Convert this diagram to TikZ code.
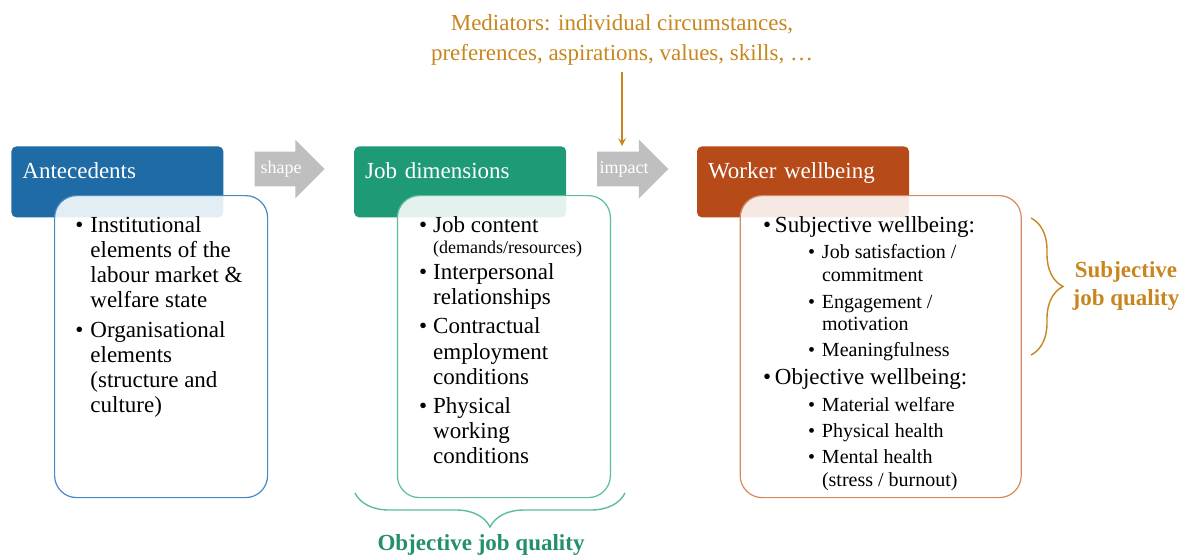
\documentclass[tikz,border=0pt]{standalone}
\usepackage{fontspec}
\setmainfont{Liberation Serif}
\usetikzlibrary{positioning,shapes.arrows,decorations.pathreplacing}

\definecolor{antblue}{HTML}{1F6BA6}
\definecolor{antline}{HTML}{4A88C2}
\definecolor{jobgreen}{HTML}{1E9A77}
\definecolor{jobline}{HTML}{5DBD9B}
\definecolor{wellred}{HTML}{B64A18}
\definecolor{wellline}{HTML}{D8875F}
\definecolor{flowgray}{HTML}{BFBFBF}
\definecolor{medgold}{HTML}{C8861E}
\definecolor{objgreen}{HTML}{238F6C}

\newcommand{\itm}[1]{\makebox[#1][l]{\textbullet}}
\newcommand{\subf}{\fontsize{10}{12}\selectfont}
\newcommand{\subitm}{\hspace*{22.5pt}\makebox[7pt][l]{\subf\textbullet}}

\begin{document}
\begin{tikzpicture}[x=0.5pt,y=-0.5pt,>=stealth,
	every node/.style={font=\fontsize{11.5}{12.5}\selectfont},
	head/.style={rectangle,rounded corners=2.5pt,anchor=north west,text=white,align=left,text width=95pt,inner xsep=5.5pt,inner ysep=7pt,text height=8.8pt,text depth=12.7pt},
	body/.style={rectangle,rounded corners=11pt,fill=white,fill opacity=0.88,line width=0.6pt,inner sep=0pt,minimum height=151pt},
	flow/.style={single arrow,fill=flowgray,text=white,minimum height=35pt,inner xsep=1pt,inner ysep=4.5pt,text height=6pt,text depth=2pt,single arrow head extend=6pt,font=\fontsize{9}{10}\selectfont},
	list/.style={inner sep=0pt},
	quality/.style={align=center,font=\fontsize{11.5}{14}\selectfont\bfseries},
	]
	\useasboundingbox (0,0) rectangle (1189,557);
	
	% headers
	\node (anthead) [head,fill=antblue] at (11,146) {Antecedents};
	\node (jobhead) [head,fill=jobgreen,right=65pt of anthead] {Job dimensions};
	\node (wellhead) [head,fill=wellred,right=65pt of jobhead] {Worker wellbeing};
	
	% boxes
	\node (antbody) [body,draw=antline,minimum width=106.5pt,below right=24.5pt and 21.5pt of anthead.north west] {};
	\node (jobbody) [body,draw=jobline,minimum width=106.5pt,below right=24.5pt and 21.5pt of jobhead.north west] {};
	\node (wellbody) [body,draw=wellline,minimum width=140.5pt,below right=24.5pt and 21.5pt of wellhead.north west] {};
	
	% lists
	\node (antlist) [list,below right=10pt and 10.5pt of antbody.north west] {\begin{tabular}{@{}l@{}}
		\itm{7.5pt}Institutional\\
		\hspace*{7.5pt}elements of the\\
		\hspace*{7.5pt}labour market \&\\
		\hspace*{7.5pt}welfare state\\[2.5pt]
		\itm{7.5pt}Organisational\\
		\hspace*{7.5pt}elements\\
		\hspace*{7.5pt}(structure and\\
		\hspace*{7.5pt}culture)
	\end{tabular}};
	\node (joblist) [list,below right=10pt and 11pt of jobbody.north west] {\begin{tabular}{@{}l@{}}
		\itm{7pt}Job content\\[-2pt]
		\hspace*{7pt}{\fontsize{9}{10}\selectfont(demands/resources)}\\[0.5pt]
		\itm{7pt}Interpersonal\\
		\hspace*{7pt}relationships\\[2pt]
		\itm{7pt}Contractual\\[0.5pt]
		\hspace*{7pt}employment\\
		\hspace*{7pt}conditions\\[2pt]
		\itm{7pt}Physical\\
		\hspace*{7pt}working\\
		\hspace*{7pt}conditions
	\end{tabular}};
	\node (welllist) [list,below right=10pt and 11.5pt of wellbody.north west] {\begin{tabular}{@{}l@{}}
		\itm{6pt}Subjective wellbeing:\\[0.5pt]
		\subitm\subf Job satisfaction /\\[-1pt]
		\hspace*{29.5pt}\subf commitment\\[1pt]
		\subitm\subf Engagement /\\[-1.5pt]
		\hspace*{29.5pt}\subf motivation\\[0.5pt]
		\subitm\subf Meaningfulness\\[1.5pt]
		\itm{6pt}Objective wellbeing:\\[1pt]
		\subitm\subf Material welfare\\[0.5pt]
		\subitm\subf Physical health\\[0.5pt]
		\subitm\subf Mental health\\[-1pt]
		\hspace*{29.5pt}\subf (stress / burnout)
	\end{tabular}};
	
	% flow arrows
	\node (shape) [flow] at (281,169) {shape};
	\node (impact) [flow] at (624,169) {impact};
	
	% mediators
	\node (med) [text=medgold,align=center,font=\fontsize{11.5}{15}\selectfont] at (622,40) {Mediators: individual circumstances,\\preferences, aspirations, values, skills, \dots};
	\coordinate (medtip) at (622,146);
	\draw[->,medgold,line width=0.7pt] (med.south) -- (medtip);
	
	% quality braces
	\draw[decorate,decoration={brace,amplitude=16pt},medgold,line width=0.7pt] (1031,218) -- (1031,355);
	\node (subjq) [quality,text=medgold] at (1126,286) {Subjective\\job quality};
	\draw[decorate,decoration={brace,amplitude=17pt},jobline,line width=0.7pt] (625,493) -- (355,493);
	\node (objq) [quality,text=objgreen] at (481,545) {Objective job quality};
	
\end{tikzpicture}
\end{document}
